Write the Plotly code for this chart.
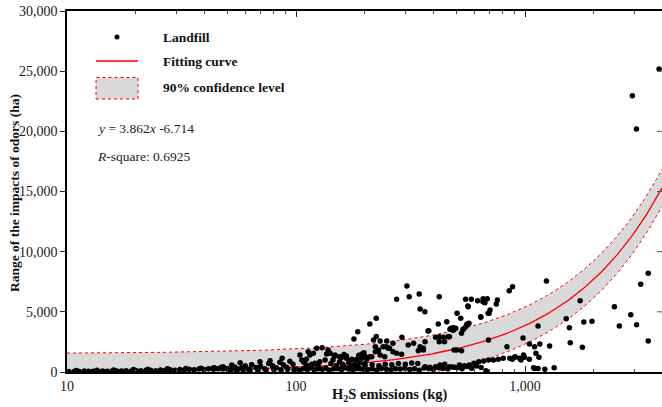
import numpy as np
import plotly.graph_objects as go

# ---------------- data ----------------
emission_kg = [
    # dense strip 10-50 kg
    10.2, 10.8, 11.3, 11.9, 12.4, 13.0, 13.7, 14.3, 15.0, 15.8, 16.5, 17.3, 18.1, 19.0, 20.0, 21.0, 22.1,
    23.2, 24.4, 25.6, 26.9, 28.2, 29.6, 31.1, 32.6, 34.2, 35.9, 37.7, 39.6, 41.5, 43.6, 45.7, 48.0,
    11.0, 13.5, 16.0, 19.5, 22.5, 27.5, 33.0, 38.5, 44.0, 47.0, 43.5, 48.0,
    # 50-100 kg
    50, 52, 54, 56, 58, 60, 62, 64, 67, 70, 73, 76, 79, 82, 85, 88, 91, 94, 97,
    51, 55, 59, 63, 68, 74, 80, 86, 92, 98,
    52.4, 57, 64, 69.6, 77, 87,
    # 100-250 kg band
    104, 106, 113, 119, 123, 130, 138, 111, 121, 127, 134,
    111, 115, 136, 145, 155, 166, 175, 184, 194, 204, 214, 233, 244,
    108, 117, 125, 142, 150, 160, 170, 180, 190, 200, 147, 158, 162, 188, 198,
    141, 148, 155, 166, 175, 184, 194, 201, 210, 222, 229, 240, 253, 265,
    160, 172, 185, 200, 215, 230, 245, 262, 280, 300, 320, 340,
    # 200-700 kg band
    222, 228, 248, 256, 218, 224, 233, 249, 265, 290, 275, 289, 309, 326, 342, 360, 366, 348,
    407, 422, 440, 445, 468, 487, 498, 503, 528, 692, 360, 423, 461, 377, 470, 486, 565, 536, 528, 490, 1100,
    # scattered upper points
    275, 305, 312, 345, 348, 365, 422, 380, 210, 224, 186, 179, 505, 524, 455, 418, 550, 583, 565, 621,
    656, 684, 668, 757, 749, 853, 882, 641, 703, 557, 551, 539, 483, 475, 1240, 1740, 1513, 1562, 1140,
    980, 834, 1575, 1806, 1960, 1780, 2455, 2580, 2895, 3070, 3200, 3450, 3450, 1090, 1140, 1220, 1340,
    1045, 1160, 1280, 1115, 1150, 985, 960, 880, 905, 680, 2942, 3065, 3847, 569, 563, 697, 655, 690, 640,
    # lower band edge
    366, 384, 406, 425, 446, 469, 492, 517, 543, 570, 598, 628, 660, 693, 728, 764, 803, 858, 901, 946,
    994, 1044, 1100,
    # bottom row 100-700 kg
    100, 104, 108, 112, 116, 120, 125, 130, 135, 140, 146, 152, 158, 164, 170, 177, 184, 191, 198,
    205, 215, 225, 236, 248, 260, 272, 285, 299, 314, 329, 345, 362, 380, 398, 418, 438, 460, 482, 506,
    531, 557, 584, 613, 643, 675,
]
odor_range_ha = [
    40, 60, 35, 80, 55, 70, 45, 90, 65, 100, 75, 85, 110, 70, 120, 95, 130,
    150, 110, 160, 140, 180, 150, 200, 170, 220, 190, 240, 210, 260, 230, 280, 250,
    120, 150, 170, 200, 230, 260, 300, 320, 360, 380, 330, 440,
    300, 180, 420, 250, 350, 520, 220, 600, 380, 450, 280, 700, 520, 350, 820, 600, 400, 900, 650,
    100, 140, 120, 160, 180, 150, 200, 170, 220, 190,
    580, 770, 580, 860, 940, 1140,
    1410, 1000, 1690, 1550, 1970, 2020, 1830, 580, 720, 860, 1000,
    1050, 1410, 1500, 1000, 860, 1140, 1050, 1000, 1140, 1080, 1270, 1410, 1270,
    800, 650, 500, 700, 550, 650, 800, 600, 750, 700, 1300, 1200, 1450, 1400, 1600,
    1550, 1410, 1270, 1330, 1000, 1050, 1500, 1270, 1270, 1690, 1830, 2100, 1970, 1690,
    450, 520, 480, 550, 600, 520, 650, 600, 700, 650, 750, 700,
    2100, 1770, 2100, 1970, 2660, 2940, 2580, 2580, 2380, 2880, 1550, 1470, 2240, 2380, 1770, 1970, 2520, 2100,
    2880, 2520, 2880, 2520, 2930, 3490, 3630, 1830, 1770, 2660, 1830, 2930, 2930, 3410, 3550, 3680, 3990, 3550, 3220, 1830, 2100,
    6040, 7150, 6260, 6480, 5240, 5010, 6260, 3430, 3990, 4460, 3350, 2740, 4880, 4460, 4180, 3990, 6040, 6040, 5430, 5930,
    6090, 6090, 5760, 5980, 5650, 6760, 7090, 4550, 5150, 3960, 3770, 3550, 3490, 3630, 7560, 5930, 4430, 3680, 3820,
    2830, 2100, 2440, 4150, 4210, 2050, 5430, 3820, 4760, 3930, 7290, 8200, 2580, 360, 300, 220, 360,
    2330, 2330, 2160, 1550, 1220, 1410, 1000, 1050, 1270, 25, 22960, 20190, 25180, 4050, 5480, 4880, 5840, 4880, 4600,
    440, 390, 440, 580, 640, 440, 390, 580, 520, 580, 720, 860, 910, 1000, 1000, 1050, 1140, 1140, 1220, 1140,
    1220, 1050, 300,
    250, 150, 300, 200, 350, 180, 280, 220, 320, 150, 260, 300, 200, 350, 240, 180, 300, 260, 210,
    200, 260, 150, 300, 220, 180, 280, 240, 310, 200, 260, 150, 330, 290, 220, 380, 300, 250, 420, 350,
    280, 460, 320, 500, 380, 100,
]

fit_slope = 3.862          # y = 3.862x - 6.714 (from the chart)
fit_intercept = -6.714
band_halfwidth_ha = 1540   # 90% confidence band half-width

x_tick_vals = [10, 100, 1000]
x_tick_text = ["10", "100", "1,000"]
y_tick_vals = [0, 5000, 10000, 15000, 20000, 25000, 30000]
x_range_kg = [10, 3963]
y_range_ha = [0, 30000]

# ---------------- figure ----------------
W, H = 662, 407
ML, MR, MT, MB = 67, 0, 11, 35
PW, PH = W - ML - MR, H - MT - MB

def px(xp):
    return (xp - ML) / PW

def py(yp):
    return (H - MB - yp) / PH

xs = np.logspace(np.log10(x_range_kg[0]), np.log10(x_range_kg[1]), 400)
fit = fit_slope * xs + fit_intercept
upper = fit + band_halfwidth_ha
lower = fit - band_halfwidth_ha

RED = "rgb(255,0,0)"
GRAY = "rgb(217,217,217)"
SERIF = "Liberation Serif, Times New Roman, serif"

fig = go.Figure()
fig.add_trace(go.Scatter(x=xs, y=lower, mode="lines",
                         line=dict(color=RED, width=1, dash="dot"), hoverinfo="skip"))
fig.add_trace(go.Scatter(x=xs, y=upper, mode="lines", fill="tonexty", fillcolor=GRAY,
                         line=dict(color=RED, width=1, dash="dot"), hoverinfo="skip"))
fig.add_trace(go.Scatter(x=xs, y=fit, mode="lines", line=dict(color=RED, width=1.3)))
fig.add_trace(go.Scatter(x=emission_kg, y=odor_range_ha, mode="markers",
                         marker=dict(color="black", size=5.5, line=dict(width=0))))

fig.update_layout(
    width=W, height=H, margin=dict(l=ML, r=MR, t=MT, b=MB, pad=0, autoexpand=False),
    paper_bgcolor="white", plot_bgcolor="white", showlegend=False,
    font=dict(family=SERIF, size=14, color="#1a1a1a"),
)
fig.update_xaxes(
    type="log", range=[np.log10(x_range_kg[0]), np.log10(x_range_kg[1])],
    tickvals=x_tick_vals, ticktext=x_tick_text, automargin=False,
    ticks="inside", ticklen=6, tickwidth=1, tickcolor="#222",
    minor=dict(ticks="inside", ticklen=3, tickwidth=1, tickcolor="#444", dtick="D1", showgrid=False),
    showline=True, linecolor="black", linewidth=1.5, mirror="ticks",
    showgrid=False, zeroline=False, tickfont=dict(size=14),
)
fig.update_yaxes(
    range=y_range_ha, tickvals=y_tick_vals, tickformat=",", automargin=False,
    ticks="outside", ticklen=5, tickwidth=1, tickcolor="#222",
    showline=True, linecolor="black", linewidth=1.5, mirror=False,
    showgrid=False, zeroline=False, tickfont=dict(size=14),
)

# ---------------- manual legend ----------------
shapes = [
    dict(type="circle", xref="paper", yref="paper",
         x0=px(114.5), x1=px(119.5), y0=py(39.5), y1=py(34.5),
         fillcolor="black", line=dict(width=0)),
    dict(type="line", xref="paper", yref="paper",
         x0=px(96), x1=px(138), y0=py(61), y1=py(61), line=dict(color=RED, width=1.5)),
    dict(type="rect", xref="paper", yref="paper",
         x0=px(96), x1=px(138), y0=py(99), y1=py(77.5),
         fillcolor=GRAY, line=dict(color=RED, width=1, dash="dot")),
]
# right-hand inner ticks (plot is cut at the right edge)
for yv in y_tick_vals[1:-1]:
    shapes.append(dict(type="line", xref="paper", yref="y", x0=1.0 - 5.0 / PW, x1=1.0,
                       y0=yv, y1=yv, line=dict(color="#555", width=1)))
fig.update_layout(shapes=shapes)

ann = []
for txt, yy in [("Landfill", 37.5), ("Fitting curve", 62), ("90% confidence level", 88)]:
    ann.append(dict(text="<b>" + txt + "</b>", xref="paper", yref="paper", x=px(161), y=py(yy),
                    xanchor="left", yanchor="middle", showarrow=False,
                    font=dict(family=SERIF, size=13.5, color="#111")))
ann.append(dict(text="<i>y</i> = 3.862<i>x</i> -6.714", xref="paper", yref="paper",
                x=px(95), y=py(128), xanchor="left", yanchor="middle", showarrow=False,
                font=dict(family=SERIF, size=13.5, color="#222")))
ann.append(dict(text="<i>R</i>-square: 0.6925", xref="paper", yref="paper",
                x=px(95), y=py(156), xanchor="left", yanchor="middle", showarrow=False,
                font=dict(family=SERIF, size=13.5, color="#222")))
ann.append(dict(text="<b>H<sub>2</sub>S emissions (kg)</b>", xref="paper", yref="paper",
                x=px(390), y=py(395), xanchor="center", yanchor="middle", showarrow=False,
                font=dict(family=SERIF, size=14.5, color="#111")))
ann.append(dict(text="<b>Range of the impacts of odors (ha)</b>", xref="paper", yref="paper",
                x=px(14), y=py(193), xanchor="center", yanchor="middle", showarrow=False,
                textangle=-90, font=dict(family=SERIF, size=13.5, color="#111")))
fig.update_layout(annotations=ann)

fig.write_html("out.html", config={"displayModeBar": False},
               post_script="document.body.style.margin='0';document.body.style.overflow='hidden';")
